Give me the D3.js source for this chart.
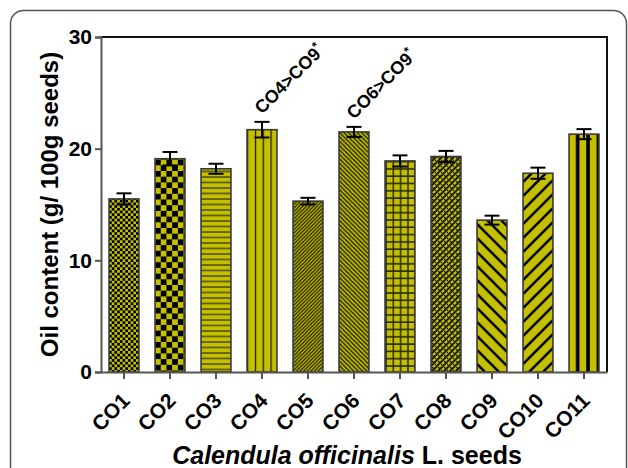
<!DOCTYPE html>
<html>
<head>
<meta charset="utf-8">
<script src="https://cdn.jsdelivr.net/npm/d3@7"></script>
<style>
  body { margin: 0; background: #fff; }
  svg { display: block; font-family: "Liberation Sans", Arial, sans-serif; }
</style>
</head>
<body>
<svg width="628" height="468"></svg>
<script>
// data
const categories = ["CO1","CO2","CO3","CO4","CO5","CO6","CO7","CO8","CO9","CO10","CO11"];
const oilValues  = [15.5, 19.1, 18.2, 21.7, 15.3, 21.5, 18.9, 19.3, 13.6, 17.8, 21.3];
const oilErrors  = [0.5, 0.6, 0.45, 0.7, 0.3, 0.45, 0.5, 0.5, 0.4, 0.5, 0.45];
const yTicks = [0, 10, 20, 30];
const noteCats  = ["CO4", "CO6"];
const noteTexts = ["CO4>CO9", "CO6>CO9"];

const svg = d3.select("svg");
const margin = {top: 37, right: 21, bottom: 96, left: 101};
const width = 628, height = 468;
const fillCol = "#c4c000";

// outer rounded frame
svg.append("rect")
  .attr("x", 10.5).attr("y", 10.5)
  .attr("width", 616).attr("height", 520)
  .attr("rx", 13)
  .attr("fill", "none").attr("stroke", "#555").attr("stroke-width", 1.5);

let x = d3.scaleBand().domain(categories)
  .range([margin.left, width - margin.right])
  .paddingInner(0.35).paddingOuter(0.175);
let y = d3.scaleLinear().domain([0, 30]).range([height - margin.bottom, margin.top]);

// patterns, one per bar, aligned to the bar's left edge
const defs = svg.append("defs");
function pat(i, w, h) {
  return defs.append("pattern").attr("id", "p" + i)
    .attr("patternUnits", "userSpaceOnUse")
    .attr("x", x(categories[i])).attr("y", 0)
    .attr("width", w).attr("height", h);
}
function bg(p, w, h, c) { p.append("rect").attr("width", w).attr("height", h).attr("fill", c); }

// CO1 fine checker
let p = pat(0, 5.4, 5.4); bg(p, 5.4, 5.4, fillCol);
p.append("rect").attr("width", 2.7).attr("height", 2.7).attr("fill", "#000");
p.append("rect").attr("x", 2.7).attr("y", 2.7).attr("width", 2.7).attr("height", 2.7).attr("fill", "#000");
// CO2 coarse checker
p = pat(1, 11.4, 11.4); bg(p, 11.4, 11.4, fillCol);
p.append("rect").attr("width", 5.7).attr("height", 5.7).attr("fill", "#000");
p.append("rect").attr("x", 5.7).attr("y", 5.7).attr("width", 5.7).attr("height", 5.7).attr("fill", "#000");
// CO3 horizontal lines
p = pat(2, 10, 5.5); bg(p, 10, 5.5, fillCol);
p.append("line").attr("x1", 0).attr("x2", 10).attr("y1", 1).attr("y2", 1).attr("stroke", "#3a3a10").attr("stroke-width", 1.3);
// CO4 vertical lines
p = pat(3, 7.8, 10); bg(p, 7.8, 10, fillCol);
p.append("line").attr("x1", 0).attr("x2", 0).attr("y1", 0).attr("y2", 10).attr("stroke", "#111").attr("stroke-width", 2.4);
// CO5 fine ascending diagonals
p = pat(4, 3.6, 3.6); bg(p, 3.6, 3.6, fillCol);
p.append("path").attr("d", "M-0.9,0.9 L0.9,-0.9 M0,3.6 L3.6,0 M2.7,4.5 L4.5,2.7").attr("stroke", "#1a1a00").attr("stroke-width", 1.2);
// CO6 fine descending diagonals
p = pat(5, 4.4, 4.4); bg(p, 4.4, 4.4, fillCol);
p.append("path").attr("d", "M-1.1,3.3 L1.1,5.5 M0,0 L4.4,4.4 M3.3,-1.1 L5.5,1.1").attr("stroke", "#1a1a00").attr("stroke-width", 1.4);
// CO7 grid
p = pat(6, 7.3, 7.3); bg(p, 7.3, 7.3, fillCol);
p.append("path").attr("d", "M0,1 H7.3 M1,0 V7.3").attr("stroke", "#2a2a08").attr("stroke-width", 1.5);
// CO8 woven crosshatch
p = pat(7, 6, 6); bg(p, 6, 6, fillCol);
p.append("path").attr("d", "M-1.5,1.5 L1.5,-1.5 M0,6 L6,0 M4.5,7.5 L7.5,4.5").attr("stroke", "#111").attr("stroke-width", 1.8);
p.append("path").attr("d", "M1,1 L3,3 M4,4 L5,5").attr("stroke", "#111").attr("stroke-width", 1.2);
// CO9 thick descending diagonals
p = pat(8, 14, 14); bg(p, 14, 14, fillCol);
p.append("path").attr("d", "M-3.5,10.5 L3.5,17.5 M0,0 L14,14 M10.5,-3.5 L17.5,3.5").attr("stroke", "#000").attr("stroke-width", 2.6);
// CO10 thick ascending diagonals
p = pat(9, 14, 14); bg(p, 14, 14, fillCol);
p.append("path").attr("d", "M-3.5,3.5 L3.5,-3.5 M0,14 L14,0 M10.5,17.5 L17.5,10.5").attr("stroke", "#000").attr("stroke-width", 2.6);
// CO11 thick vertical stripes
p = pat(10, 10.4, 10); bg(p, 10.4, 10, fillCol);
p.append("rect").attr("x", 6.8).attr("width", 3.8).attr("height", 10).attr("fill", "#000");

// bars
svg.append("g").selectAll("rect").data(categories).join("rect")
  .attr("x", d => x(d))
  .attr("y", (d, i) => y(oilValues[i]))
  .attr("width", x.bandwidth())
  .attr("height", (d, i) => y(0) - y(oilValues[i]))
  .attr("fill", (d, i) => `url(#p${i})`)
  .attr("stroke", "#3a3a3a").attr("stroke-width", 1.6);

// error bars
const eb = svg.append("g").attr("stroke", "#000").attr("stroke-width", 2);
const capW = 15;
categories.forEach((c, i) => {
  const cx = x(c) + x.bandwidth() / 2;
  const lo = y(oilValues[i] - oilErrors[i]), hi = y(oilValues[i] + oilErrors[i]);
  eb.append("line").attr("x1", cx).attr("x2", cx).attr("y1", lo).attr("y2", hi);
  eb.append("line").attr("x1", cx - capW / 2).attr("x2", cx + capW / 2).attr("y1", hi).attr("y2", hi);
  eb.append("line").attr("x1", cx - capW / 2).attr("x2", cx + capW / 2).attr("y1", lo).attr("y2", lo);
});

// top / right box lines
svg.append("path")
  .attr("d", `M${margin.left},${margin.top} H${width - margin.right} V${y(0)}`)
  .attr("fill", "none").attr("stroke", "#111").attr("stroke-width", 2);

// axes
const yAxis = svg.append("g")
  .attr("transform", `translate(${margin.left},0)`)
  .call(d3.axisLeft(y).tickValues(yTicks).tickSize(6).tickPadding(3));
yAxis.select(".domain").attr("stroke", "#555").attr("stroke-width", 2);
yAxis.selectAll(".tick line").attr("stroke", "#555").attr("stroke-width", 2);
yAxis.selectAll(".tick text").attr("font-size", 21).attr("font-weight", "bold").attr("fill", "#000")
  .attr("font-family", "Liberation Sans, Arial, sans-serif");

const xAxis = svg.append("g")
  .attr("transform", `translate(0,${y(0)})`)
  .call(d3.axisBottom(x).tickSize(7).tickSizeOuter(0));
xAxis.select(".domain").attr("stroke", "#555").attr("stroke-width", 2);
xAxis.selectAll(".tick line").attr("stroke", "#555").attr("stroke-width", 2);
xAxis.selectAll(".tick text")
  .attr("font-size", 21).attr("font-weight", "bold").attr("fill", "#000")
  .attr("font-family", "Liberation Sans, Arial, sans-serif")
  .attr("text-anchor", "end")
  .attr("y", 0).attr("dy", 0)
  .attr("transform", "translate(7,30) rotate(-45)");

// significance notes
noteCats.forEach((c, k) => {
  const i = categories.indexOf(c);
  const cx = x(c) + x.bandwidth() / 2;
  const ty = y(oilValues[i] + oilErrors[i]) - 7;
  const t = svg.append("text")
    .attr("transform", `translate(${cx},${ty}) rotate(-45)`)
    .attr("font-size", 18).attr("font-weight", "bold");
  t.append("tspan").text(noteTexts[k]);
  t.append("tspan").attr("font-size", 12).attr("dy", -7).text("*");
});

// axis titles
svg.append("text")
  .attr("transform", `translate(58,${(margin.top + y(0)) / 2}) rotate(-90)`)
  .attr("text-anchor", "middle")
  .attr("font-size", 24).attr("font-weight", "bold")
  .text("Oil content (g/ 100g seeds)");

const xt = svg.append("text")
  .attr("x", 347).attr("y", 464)
  .attr("text-anchor", "middle")
  .attr("font-size", 25).attr("font-weight", "bold");
xt.append("tspan").attr("font-style", "italic").text("Calendula officinalis");
xt.append("tspan").text(" L. seeds");
</script>
</body>
</html>
